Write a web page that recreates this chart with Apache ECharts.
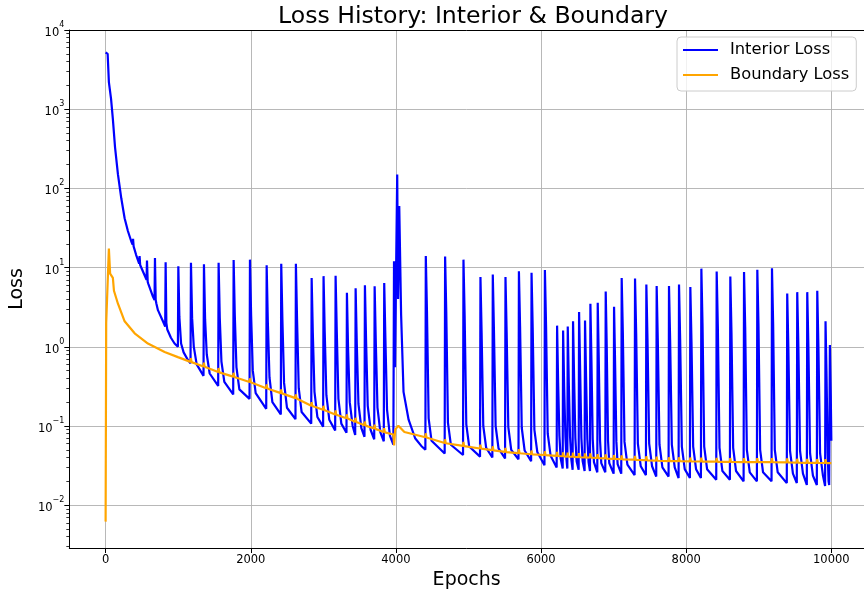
<!DOCTYPE html>
<html><head><meta charset="utf-8">
<script src="https://cdn.jsdelivr.net/npm/echarts@6/dist/echarts.min.js"></script>
<style>html,body{margin:0;padding:0;background:#fff}#c{width:864px;height:596px}</style>
</head><body><div id="c"></div>
<script>
const chartTitle = 'Loss History: Interior & Boundary';
const xAxisTitle = 'Epochs';
const yAxisTitle = 'Loss';
const seriesNames = ['Interior Loss', 'Boundary Loss'];

// [epoch, loss]
const interiorLoss = [
  [0,5200],[28,5000],[45,2200],[75,1350],[100,750],[130,330],[170,150],[216,75],[262,42],[307,29],[353,21.5],
  [372,19.5],[378,23],[386,18.5],[420,14.5],[462,11.2],[468,14],[476,10.8],[491,10.2],[537,8],
  [564,7],[570,12.3],[580,6.6],[590,6.2],[652,4.3],[674,3.9],[680,13.2],[690,3.9],[700,3.5],[721,2.9],
  [790,2.1],[821,1.8],[827,11.7],[837,2.0],[850,1.65],[900,1.3],[950,1.1],
  [996,1.0],[1002,10.4],[1016,2.4],[1040,1.1],[1075,0.85],[1134,0.68],
  [1170,0.62],[1176,11.5],[1192,2.3],[1215,1.0],[1255,0.6],
  [1349,0.43],[1355,11],[1371,2.2],[1394,0.8],[1434,0.46],
  [1551,0.32],[1557,11.5],[1573,2.3],[1596,0.65],[1636,0.36],
  [1758,0.25],[1764,12.5],[1780,2.5],[1803,0.55],[1843,0.29],
  [1983,0.22],[1989,12.6],[2005,2.5],[2028,0.5],[2068,0.26],
  [2213,0.165],[2219,10.7],[2235,2.1],[2258,0.41],[2298,0.2],
  [2414,0.14],[2420,11.2],[2436,2.2],[2459,0.35],[2499,0.17],
  [2616,0.122],[2622,11.2],[2638,2.2],[2661,0.3],[2701,0.15],
  [2833,0.107],[2839,7.4],[2855,1.5],[2878,0.27],[2918,0.13],
  [2997,0.098],[3003,7.8],[3019,1.55],[3042,0.245],[3082,0.12],
  [3163,0.088],[3169,7.9],[3185,1.6],[3208,0.22],[3248,0.107],
  [3319,0.082],[3325,4.8],[3341,0.95],[3364,0.2],[3404,0.1],
  [3439,0.077],[3445,5.5],[3461,1.1],[3484,0.19],[3524,0.094],
  [3567,0.073],[3573,6.0],[3589,1.2],[3612,0.18],[3652,0.089],
  [3701,0.068],[3707,5.8],[3723,1.15],[3746,0.17],[3786,0.083],
  [3833,0.064],[3839,6.4],[3855,1.3],[3878,0.16],[3918,0.075],
  [3965,0.058],[3974,12],[3988,0.55],[4004,12],[4018,150],[4030,4],[4046,60],[4072,2.5],[4105,0.27],[4175,0.12],[4265,0.07],[4350,0.056],
  [4406,0.05],[4412,14],[4428,2.8],[4451,0.125],[4491,0.065],
  [4672,0.045],[4678,13.8],[4694,2.75],[4717,0.11],[4757,0.058],
  [4925,0.043],[4931,12.6],[4947,2.5],[4970,0.105],[5010,0.055],
  [5159,0.041],[5165,7.6],[5181,1.5],[5204,0.1],[5244,0.053],
  [5329,0.04],[5335,8.2],[5351,1.6],[5374,0.1],[5414,0.052],
  [5504,0.039],[5510,7.6],[5526,1.5],[5549,0.097],[5589,0.05],
  [5689,0.038],[5695,9.0],[5711,1.8],[5734,0.095],[5774,0.049],
  [5863,0.036],[5869,8.6],[5885,1.7],[5908,0.09],[5948,0.047],
  [6047,0.032],[6053,9.3],[6069,1.85],[6092,0.08],[6132,0.042],
  [6215,0.03],[6221,1.85],[6235,0.37],[6253,0.075],[6270,0.039],
  [6298,0.029],[6304,1.6],[6318,0.32],[6336,0.072],[6350,0.038],
  [6362,0.029],[6368,1.8],[6382,0.36],[6400,0.072],[6417,0.038],
  [6435,0.028],[6441,2.1],[6455,0.42],[6473,0.07],[6490,0.036],
  [6518,0.028],[6524,2.75],[6538,0.55],[6556,0.07],[6573,0.036],
  [6600,0.027],[6606,2.15],[6620,0.43],[6638,0.068],[6655,0.035],
  [6674,0.027],[6680,3.5],[6694,0.7],[6712,0.068],[6729,0.035],
  [6775,0.026],[6781,3.6],[6795,0.72],[6813,0.065],[6830,0.034],
  [6885,0.026],[6891,5.0],[6905,1.0],[6923,0.065],[6940,0.034],
  [7000,0.025],[7006,3.2],[7020,0.64],[7038,0.063],[7055,0.033],
  [7105,0.025],[7111,7.4],[7127,1.5],[7150,0.063],[7190,0.0325],
  [7289,0.024],[7295,7.3],[7311,1.45],[7334,0.06],[7374,0.031],
  [7445,0.024],[7451,6.1],[7467,1.2],[7490,0.06],[7530,0.031],
  [7587,0.023],[7593,5.85],[7609,1.17],[7632,0.058],[7672,0.03],
  [7757,0.023],[7763,5.85],[7779,1.17],[7802,0.058],[7842,0.03],
  [7895,0.022],[7901,6.1],[7917,1.2],[7940,0.055],[7980,0.0285],
  [8051,0.022],[8057,5.7],[8073,1.14],[8096,0.055],[8136,0.0285],
  [8203,0.022],[8209,9.7],[8225,1.9],[8248,0.055],[8288,0.0285],
  [8414,0.021],[8420,8.9],[8436,1.8],[8459,0.053],[8499,0.027],
  [8602,0.021],[8608,7.7],[8624,1.5],[8647,0.053],[8687,0.027],
  [8791,0.02],[8797,8.8],[8813,1.75],[8836,0.05],[8876,0.026],
  [8974,0.02],[8980,9.4],[8996,1.9],[9019,0.05],[9059,0.026],
  [9176,0.02],[9182,9.8],[9198,1.95],[9221,0.05],[9261,0.026],
  [9386,0.019],[9392,4.7],[9408,0.94],[9431,0.048],[9471,0.025],
  [9524,0.019],[9530,4.9],[9546,0.98],[9569,0.048],[9609,0.025],
  [9662,0.018],[9668,4.9],[9684,0.98],[9707,0.045],[9747,0.0235],
  [9800,0.018],[9806,5.1],[9822,1.0],[9845,0.045],[9885,0.0235],
  [9914,0.0175],[9920,2.1],[9934,0.42],[9950,0.045],[9962,0.02],
  [9970,0.018],[9980,1.05],[9992,0.25],[10000,0.065]
];

const boundaryLoss = [
  [0,0.0062],[8,2.0],[45,17.4],[62,8.4],[72,8.6],[88,8.8],[100,7.4],[115,5.1],[170,3.5],[262,2.1],[400,1.48],
  [583,1.1],[813,0.86],[996,0.74],
  [1170,0.645],[1175,0.72],[1185,0.64],[1349,0.565],[1354,0.63],[1364,0.56],
  [1551,0.48],[1556,0.54],[1566,0.475],[1758,0.42],[1763,0.47],[1773,0.415],
  [1983,0.36],[1988,0.40],[1998,0.357],[2213,0.30],[2218,0.335],[2228,0.298],
  [2414,0.26],[2419,0.29],[2429,0.258],[2616,0.225],[2621,0.25],[2631,0.223],
  [2833,0.18],[2838,0.20],[2848,0.179],[2997,0.16],[3002,0.18],[3012,0.159],
  [3163,0.14],[3168,0.157],[3178,0.139],[3319,0.125],[3324,0.14],[3334,0.124],
  [3439,0.113],[3444,0.127],[3454,0.112],[3567,0.102],[3572,0.114],[3582,0.101],
  [3701,0.093],[3706,0.104],[3716,0.092],[3833,0.084],[3838,0.094],[3848,0.083],
  [3965,0.078],[3975,0.057],[3990,0.09],[4010,0.085],[4034,0.101],[4117,0.084],
  [4406,0.072],[4411,0.081],[4421,0.0715],[4672,0.061],[4677,0.068],[4687,0.0605],
  [4925,0.056],[4930,0.063],[4940,0.0557],[5159,0.052],[5164,0.058],[5174,0.0518],
  [5329,0.0495],[5334,0.0555],[5344,0.0493],[5504,0.047],[5509,0.053],[5519,0.0468],
  [5689,0.0455],[5694,0.051],[5704,0.0453],[5863,0.044],[5868,0.049],[5878,0.0438],
  [6047,0.043],[6052,0.048],[6062,0.0428],[6215,0.042],[6220,0.047],[6230,0.0418],
  [6298,0.0415],[6303,0.0465],[6313,0.0413],[6362,0.041],[6367,0.046],[6377,0.0409],
  [6435,0.041],[6440,0.046],[6450,0.0408],[6518,0.0405],[6523,0.0455],[6533,0.0403],
  [6600,0.040],[6605,0.045],[6615,0.0399],[6674,0.040],[6679,0.045],[6689,0.0398],
  [6775,0.0395],[6780,0.044],[6790,0.0393],[6885,0.039],[6890,0.0437],[6900,0.0388],
  [7000,0.0385],[7005,0.043],[7015,0.0384],[7105,0.038],[7110,0.0425],[7120,0.0379],
  [7289,0.0375],[7294,0.042],[7304,0.0374],[7445,0.037],[7450,0.0415],[7460,0.0369],
  [7587,0.0365],[7592,0.041],[7602,0.0364],[7757,0.036],[7762,0.0403],[7772,0.0359],
  [7895,0.036],[7900,0.0403],[7910,0.0359],[8051,0.0358],[8056,0.040],[8066,0.0357],
  [8203,0.0356],[8208,0.0399],[8218,0.0355],[8414,0.0354],[8419,0.0396],[8429,0.0353],
  [8602,0.0352],[8607,0.0394],[8617,0.0351],[8791,0.035],[8796,0.0392],[8806,0.0349],
  [8974,0.035],[8979,0.0392],[8989,0.0349],[9176,0.035],[9181,0.0392],[9191,0.0349],
  [9386,0.0347],[9391,0.0389],[9401,0.0346],[9524,0.0345],[9529,0.0386],[9539,0.0344],
  [9662,0.0343],[9667,0.0384],[9677,0.0342],[9800,0.0342],[9805,0.0383],[9815,0.0341],
  [9914,0.0341],[9919,0.0382],[9929,0.034],[10000,0.034]
];

const yMinorTicks = [0.003,0.004,0.005,0.006,0.007,0.008,0.009,
  0.02,0.03,0.04,0.05,0.06,0.07,0.08,0.09,0.2,0.3,0.4,0.5,0.6,0.7,0.8,0.9,
  2,3,4,5,6,7,8,9,20,30,40,50,60,70,80,90,200,300,400,500,600,700,800,900,
  2000,3000,4000,5000,6000,7000,8000,9000];

const FONT = 'DejaVu Sans';
const X_MIN = -500, X_MAX = 10450;
const Y_MIN = 0.00288, Y_MAX = 10000;

const chart = echarts.init(document.getElementById('c'), null, {renderer: 'canvas'});
function supLabel(v) {
  const lg = Math.log10(v);
  const n = Math.round(lg);
  if (Math.abs(lg - n) > 1e-6) return '';
  const e = n < 0 ? '\u2212' + (-n) : String(n);
  return '{b|10}{s|' + e + '}';
}
chart.setOption({
  animation: false,
  backgroundColor: '#fff',
  title: {
    text: chartTitle, left: 468, top: 0, textAlign: 'center',
    textStyle: {fontFamily: FONT, fontSize: 23.6, fontWeight: 'normal', color: '#000'}
  },
  legend: {
    orient: 'vertical', left: 677, top: 37,
    icon: 'rect', itemWidth: 35, itemHeight: 2.2, itemGap: 9,
    padding: [5, 7, 8, 6],
    borderColor: '#cccccc', borderWidth: 1, borderRadius: 4,
    backgroundColor: 'rgba(255,255,255,0.8)',
    textStyle: {fontFamily: FONT, fontSize: 16.3, color: '#000', lineHeight: 16, padding: [0, 0, 0, 7]},
    data: seriesNames
  },
  grid: {left: 69, top: 30, right: 0, height: 518},
  xAxis: [{
    type: 'value', min: X_MIN, max: X_MAX, splitNumber: 5,
    axisLine: {onZero: false, lineStyle: {color: '#000', width: 1}},
    axisTick: {length: 5, lineStyle: {color: '#000'}},
    axisLabel: {showMinLabel: false, showMaxLabel: false, fontFamily: FONT, fontSize: 11.5, color: '#000', margin: 6,
      formatter: v => String(v)},
    splitLine: {show: true, lineStyle: {color: '#b0b0b0', width: 0.9}},
    name: xAxisTitle, nameLocation: 'middle', nameGap: 22,
    nameTextStyle: {fontFamily: FONT, fontSize: 19, color: '#000'}
  }, {
    type: 'value', min: X_MIN, max: X_MAX, position: 'top',
    axisLine: {show: true, onZero: false, lineStyle: {color: '#000', width: 1}},
    axisTick: {show: false}, axisLabel: {show: false}, splitLine: {show: false}
  }],
  yAxis: [{
    type: 'log', logBase: 10, min: Y_MIN, max: Y_MAX,
    axisLine: {show: true, onZero: false, lineStyle: {color: '#000', width: 1}},
    axisTick: {show: true, length: 5, lineStyle: {color: '#000'}},
    axisLabel: {
      formatter: supLabel, margin: 5, showMinLabel: false,
      rich: {
        b: {fontFamily: FONT, fontSize: 11.5, color: '#000', lineHeight: 18, verticalAlign: 'bottom'},
        s: {fontFamily: FONT, fontSize: 8, color: '#000', lineHeight: 18, verticalAlign: 'top'}
      }
    },
    splitLine: {show: true, lineStyle: {color: '#b0b0b0', width: 0.9}},
    name: yAxisTitle, nameLocation: 'middle', nameGap: 33, nameRotate: 90,
    nameTextStyle: {fontFamily: FONT, fontSize: 19, color: '#000'}
  }, {
    type: 'log', logBase: 10, min: Y_MIN, max: Y_MAX, position: 'left', offset: 0,
    axisLine: {show: false, onZero: false},
    axisTick: {show: true, length: 3, customValues: yMinorTicks, lineStyle: {color: '#000', width: 0.8}},
    axisLabel: {show: false},
    splitLine: {show: false}
  }],
  series: [{
    name: seriesNames[0], type: 'line', data: interiorLoss, xAxisIndex: 0, yAxisIndex: 0,
    symbol: 'none', showSymbol: false, sampling: null,
    lineStyle: {color: '#0000ff', width: 2.2}, itemStyle: {color: '#0000ff'}
  }, {
    name: seriesNames[1], type: 'line', data: boundaryLoss, xAxisIndex: 0, yAxisIndex: 0,
    symbol: 'none', showSymbol: false,
    lineStyle: {color: '#ffa500', width: 2.2}, itemStyle: {color: '#ffa500'}
  }]
});
</script></body></html>
